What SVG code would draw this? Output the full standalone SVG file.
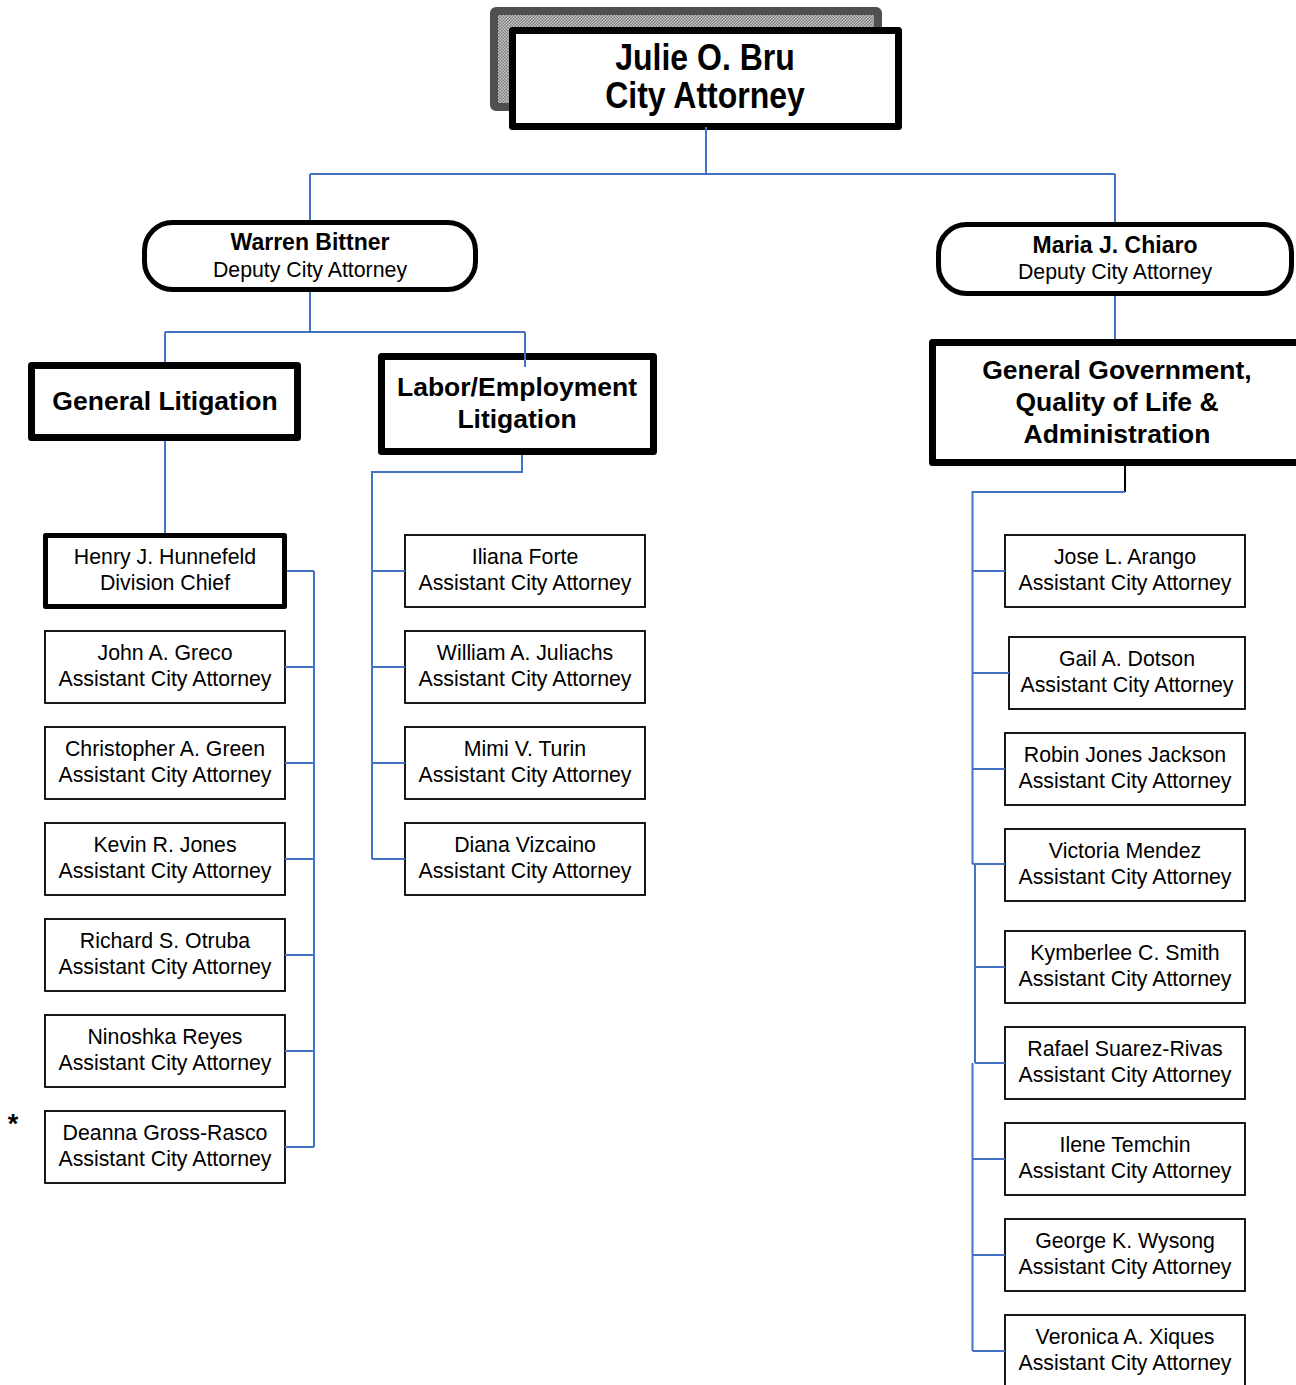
<svg xmlns="http://www.w3.org/2000/svg" width="1296" height="1385" viewBox="0 0 1296 1385">
<defs>
<pattern id="stip" width="3" height="3" patternUnits="userSpaceOnUse">
<rect width="3" height="3" fill="#c8c8c8"/>
<rect x="0" y="0" width="1.5" height="1.5" fill="#7a7a7a"/>
<rect x="1.5" y="1.5" width="1.5" height="1.5" fill="#7a7a7a"/>
</pattern>
<style>
text{font-family:"Liberation Sans",Arial,sans-serif;fill:#000;text-anchor:middle}
.nm{font-size:21.3px}
.hd{font-size:26.5px;font-weight:bold}
.dp{font-size:23px;font-weight:bold}
.ttl{font-size:32px;font-weight:bold}
.thin{fill:#fff;stroke:#000;stroke-width:1.8}
.thick{fill:#fff;stroke:#000;stroke-width:7;stroke-linejoin:round}
.mid{fill:#fff;stroke:#000;stroke-width:5;stroke-linejoin:round}
.round{fill:#fff;stroke:#000;stroke-width:5}
.c{fill:none;stroke:#4472C4;stroke-width:2}
.k{fill:none;stroke:#000;stroke-width:2}
</style>
</defs>
<rect width="1296" height="1385" fill="#fff"/>

<g id="city-attorney">
<rect x="494" y="11" width="384" height="96" rx="2" fill="url(#stip)" stroke="#505050" stroke-width="8"/>
<rect x="512.5" y="30.5" width="386" height="96" class="thick"/>
<text class="ttl" transform="translate(705,70) scale(1,1.17)">Julie O. Bru</text>
<text class="ttl" transform="translate(705,108) scale(1,1.17)">City Attorney</text>
</g>

<g id="warren-bittner">
<rect x="144.5" y="222.5" width="331" height="67" rx="28" class="round"/>
<text class="dp" x="310" y="250">Warren Bittner</text>
<text class="nm" x="310" y="277">Deputy City Attorney</text>
</g>

<g id="maria-chiaro">
<rect x="938.5" y="224.5" width="353" height="69" rx="28" class="round"/>
<text class="dp" x="1115" y="253">Maria J. Chiaro</text>
<text class="nm" x="1115" y="279">Deputy City Attorney</text>
</g>

<g id="general-litigation">
<rect x="31.5" y="365.5" width="266" height="72" class="thick"/>
<text class="hd" x="165" y="410">General Litigation</text>
</g>

<g id="labor-employment">
<rect x="381.5" y="356.5" width="272" height="95" class="thick"/>
<text class="hd" x="517" y="396">Labor/Employment</text>
<text class="hd" x="517" y="428">Litigation</text>
</g>

<g id="general-government">
<rect x="932.5" y="342.5" width="400" height="120" class="thick"/>
<text class="hd" x="1117" y="379">General Government,</text>
<text class="hd" x="1117" y="411">Quality of Life &amp;</text>
<text class="hd" x="1117" y="443">Administration</text>
</g>

<g id="henry-hunnefeld">
<rect x="45.5" y="535.5" width="239" height="71" class="mid"/>
<text class="nm" x="165" y="564">Henry J. Hunnefeld</text>
<text class="nm" x="165" y="590">Division Chief</text>
</g>

<g id="john-greco">
<rect x="45" y="631" width="240" height="72" class="thin"/>
<text class="nm" x="165" y="660">John A. Greco</text>
<text class="nm" x="165" y="686">Assistant City Attorney</text>
</g>
<g id="christopher-green">
<rect x="45" y="727" width="240" height="72" class="thin"/>
<text class="nm" x="165" y="756">Christopher A. Green</text>
<text class="nm" x="165" y="782">Assistant City Attorney</text>
</g>
<g id="kevin-jones">
<rect x="45" y="823" width="240" height="72" class="thin"/>
<text class="nm" x="165" y="852">Kevin R. Jones</text>
<text class="nm" x="165" y="878">Assistant City Attorney</text>
</g>
<g id="richard-otruba">
<rect x="45" y="919" width="240" height="72" class="thin"/>
<text class="nm" x="165" y="948">Richard S. Otruba</text>
<text class="nm" x="165" y="974">Assistant City Attorney</text>
</g>
<g id="ninoshka-reyes">
<rect x="45" y="1015" width="240" height="72" class="thin"/>
<text class="nm" x="165" y="1044">Ninoshka Reyes</text>
<text class="nm" x="165" y="1070">Assistant City Attorney</text>
</g>
<g id="deanna-gross-rasco">
<rect x="45" y="1111" width="240" height="72" class="thin"/>
<text class="nm" x="165" y="1140">Deanna Gross-Rasco</text>
<text class="nm" x="165" y="1166">Assistant City Attorney</text>
</g>
<text x="13" y="1133" style="font-size:27px;font-weight:bold">*</text>

<g id="iliana-forte">
<rect x="405" y="535" width="240" height="72" class="thin"/>
<text class="nm" x="525" y="564">Iliana Forte</text>
<text class="nm" x="525" y="590">Assistant City Attorney</text>
</g>
<g id="william-juliachs">
<rect x="405" y="631" width="240" height="72" class="thin"/>
<text class="nm" x="525" y="660">William A. Juliachs</text>
<text class="nm" x="525" y="686">Assistant City Attorney</text>
</g>
<g id="mimi-turin">
<rect x="405" y="727" width="240" height="72" class="thin"/>
<text class="nm" x="525" y="756">Mimi V. Turin</text>
<text class="nm" x="525" y="782">Assistant City Attorney</text>
</g>
<g id="diana-vizcaino">
<rect x="405" y="823" width="240" height="72" class="thin"/>
<text class="nm" x="525" y="852">Diana Vizcaino</text>
<text class="nm" x="525" y="878">Assistant City Attorney</text>
</g>

<g id="jose-arango">
<rect x="1005" y="535" width="240" height="72" class="thin"/>
<text class="nm" x="1125" y="564">Jose L. Arango</text>
<text class="nm" x="1125" y="590">Assistant City Attorney</text>
</g>
<g id="gail-dotson">
<rect x="1009" y="637" width="236" height="72" class="thin"/>
<text class="nm" x="1127" y="666">Gail A. Dotson</text>
<text class="nm" x="1127" y="692">Assistant City Attorney</text>
</g>
<g id="robin-jones-jackson">
<rect x="1005" y="733" width="240" height="72" class="thin"/>
<text class="nm" x="1125" y="762">Robin Jones Jackson</text>
<text class="nm" x="1125" y="788">Assistant City Attorney</text>
</g>
<g id="victoria-mendez">
<rect x="1005" y="829" width="240" height="72" class="thin"/>
<text class="nm" x="1125" y="858">Victoria Mendez</text>
<text class="nm" x="1125" y="884">Assistant City Attorney</text>
</g>
<g id="kymberlee-smith">
<rect x="1005" y="931" width="240" height="72" class="thin"/>
<text class="nm" x="1125" y="960">Kymberlee C. Smith</text>
<text class="nm" x="1125" y="986">Assistant City Attorney</text>
</g>
<g id="rafael-suarez-rivas">
<rect x="1005" y="1027" width="240" height="72" class="thin"/>
<text class="nm" x="1125" y="1056">Rafael Suarez-Rivas</text>
<text class="nm" x="1125" y="1082">Assistant City Attorney</text>
</g>
<g id="ilene-temchin">
<rect x="1005" y="1123" width="240" height="72" class="thin"/>
<text class="nm" x="1125" y="1152">Ilene Temchin</text>
<text class="nm" x="1125" y="1178">Assistant City Attorney</text>
</g>
<g id="george-wysong">
<rect x="1005" y="1219" width="240" height="72" class="thin"/>
<text class="nm" x="1125" y="1248">George K. Wysong</text>
<text class="nm" x="1125" y="1274">Assistant City Attorney</text>
</g>
<g id="veronica-xiques">
<rect x="1005" y="1315" width="240" height="72" class="thin"/>
<text class="nm" x="1125" y="1344">Veronica A. Xiques</text>
<text class="nm" x="1125" y="1370">Assistant City Attorney</text>
</g>

<g id="connectors">
<path class="c" d="M706 127V174M310 174H1115M310 174V220M1115 174V222"/>
<path class="c" d="M310 292V332M165 332H525M165 332V362M525 332V367"/>
<path class="c" d="M1115 296V339"/>
<path class="c" d="M165 441V533"/>
<path class="c" d="M287 571H314M314 571V1147M285 667H314M285 763H314M285 859H314M285 955H314M285 1051H314M285 1147H314"/>
<path class="c" d="M522 455V472H372V859M372 571H405M372 667H405M372 763H405M372 859H405"/>
<path class="k" d="M1125 466V492"/>
<path class="c" d="M1125 492H972.5V864M975 864V1063M972.5 1063V1351M972.5 571H1005M972.5 673H1009M972.5 769H1005M972.5 864H1005M975 967H1005M975 1063H1005M972.5 1159H1005M972.5 1255H1005M972.5 1351H1005"/>
</g>
</svg>
